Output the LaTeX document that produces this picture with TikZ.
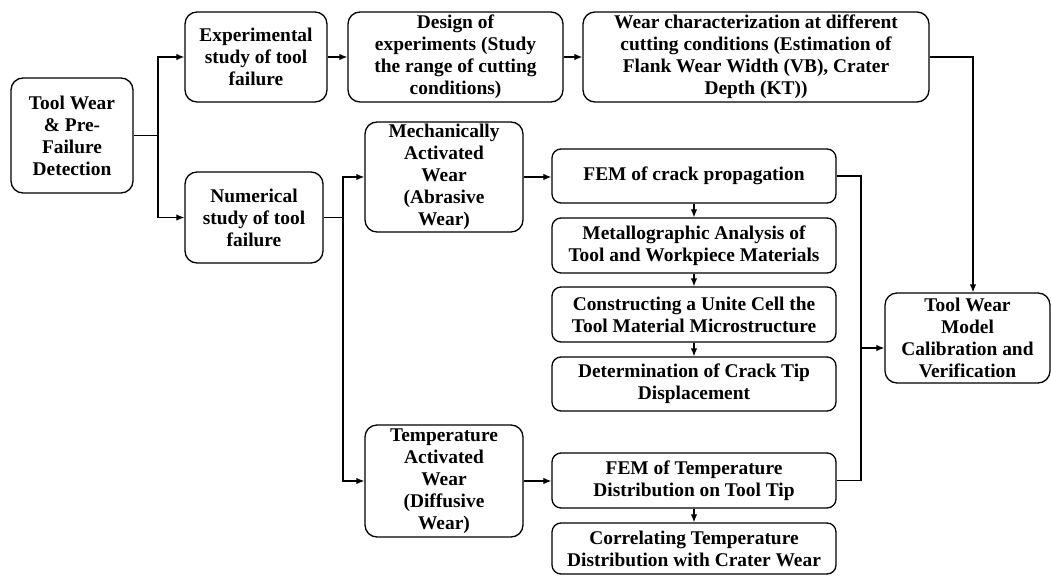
\documentclass[tikz,border=0pt]{standalone}
\usepackage{fontspec}
\setmainfont{Liberation Serif}
\usetikzlibrary{arrows.meta,calc}
\newcommand{\boxfont}{\fontsize{19.4}{22}\selectfont\bfseries}
\tikzset{
  box/.style={draw, line width=1.3pt, rounded corners=12pt, align=center,
    font=\boxfont, inner sep=0pt},
  sbox/.style={box, rounded corners=9pt},
  link/.style={line width=1.2pt},
  arr/.style={link, -{Latex[length=8pt,width=6.5pt]}}
}
\begin{document}
\begin{tikzpicture}[x=1pt,y=-1pt]
\useasboundingbox (0,0) rectangle (1051,575);
% top branch
\node[box, minimum width=122pt, minimum height=115pt] (A) at (72,135.5)
  {Tool Wear\\ \& Pre-\\ Failure\\ Detection};
\node[box, minimum width=142pt, minimum height=90pt] (B) at (256,57)
  {Experimental\\ study of tool\\ failure};
\node[box, minimum width=215pt, minimum height=90pt] (C) at (455.5,57)
  {Design of\\ experiments (Study\\ the range of cutting\\ conditions)};
\node[box, minimum width=346pt, minimum height=90pt] (D) at (756,57)
  {Wear characterization at different\\ cutting conditions (Estimation of\\ Flank Wear Width (VB), Crater\\ Depth (KT))};
% numerical branch
\node[box, minimum width=138pt, minimum height=91pt] (E) at (254,217.5)
  {Numerical\\ study of tool\\ failure};
\node[box, minimum width=158pt, minimum height=110pt] (F) at (444,177)
  {Mechanically\\ Activated\\ Wear\\ (Abrasive\\ Wear)};
\node[box, minimum width=158pt, minimum height=112pt] (K) at (444,481)
  {Temperature\\ Activated\\ Wear\\ (Diffusive\\ Wear)};
% mechanical chain
\node[sbox, minimum width=284pt, minimum height=54pt] (G) at (694,176)
  {FEM of crack propagation};
\node[sbox, minimum width=284pt, minimum height=55pt] (H) at (694,245.5)
  {Metallographic Analysis of\\ Tool and Workpiece Materials};
\node[sbox, minimum width=284pt, minimum height=55pt] (I) at (694,314.5)
  {Constructing a Unite Cell the\\ Tool Material Microstructure};
\node[sbox, minimum width=284pt, minimum height=54pt] (J) at (694,384)
  {Determination of Crack Tip\\ Displacement};
% thermal chain
\node[sbox, minimum width=284pt, minimum height=55pt] (L) at (694,480.5)
  {FEM of Temperature\\ Distribution on Tool Tip};
\node[sbox, minimum width=284pt, minimum height=51pt] (M) at (694,548.5)
  {Correlating Temperature\\ Distribution with Crater Wear};
% calibration
\node[box, minimum width=165pt, minimum height=90pt] (N) at (967.5,338)
  {Tool Wear\\ Model\\ Calibration and\\ Verification};
% junction points
\coordinate (j1) at (158,135.5);
\coordinate (j2) at (343,217.5);
\coordinate (j3) at (973,57);
\coordinate (j4) at (861,176);
\coordinate (j5) at (861,348);
% connectors
\draw[link] (A.east) -- (j1);
\draw[arr] (j1) |- (B.west);
\draw[arr] (j1) |- (E.west);
\draw[arr] (B) -- (C);
\draw[arr] (C) -- (D);
\draw[arr] (D.east) -- (j3) -- (j3 |- N.north);
\draw[link] (E.east) -- (j2);
\draw[arr] (j2) |- (F.west);
\draw[arr] (j2) |- (K.west);
\draw[arr] (F.east) -- (F.east -| G.west);
\draw[arr] (K.east) -- (K.east -| L.west);
\draw[arr] (G) -- (H);
\draw[arr] (H) -- (I);
\draw[arr] (I) -- (J);
\draw[arr] (L) -- (M);
\draw[link] (G.east |- j4) -- (j4) -- (j4 |- L.east) -- (L.east);
\draw[arr] (j5) -- (j5 -| N.west);
\end{tikzpicture}
\end{document}
